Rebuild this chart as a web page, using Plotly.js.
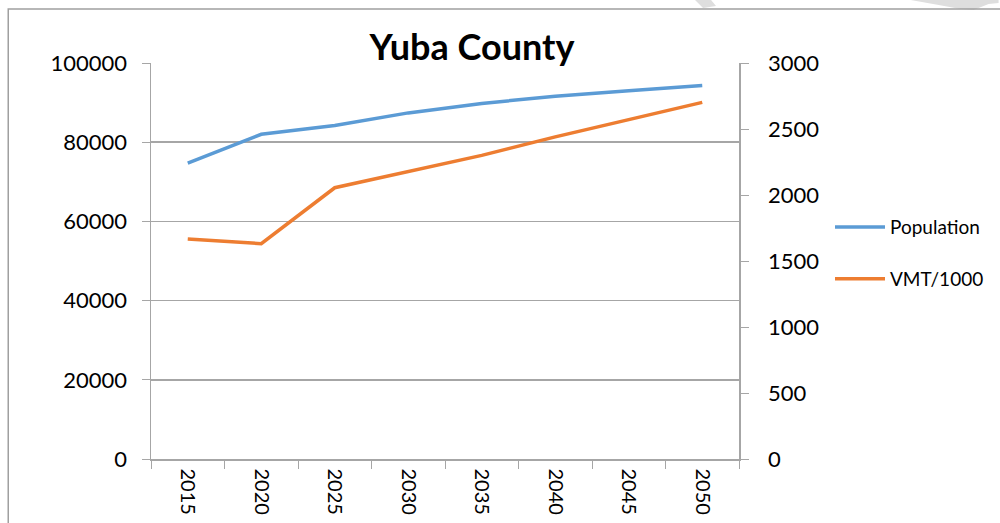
<!DOCTYPE html>
<html>
<head>
<meta charset="utf-8">
<script src="https://cdn.plot.ly/plotly-3.0.1.min.js"></script>
<style>
  html, body { margin: 0; padding: 0; background: #fff; }
  #chart { width: 1000px; height: 523px; }
</style>
</head>
<body>
<div id="chart"></div>
<script>
// Chart data
const years = ['2015', '2020', '2025', '2030', '2035', '2040', '2045', '2050'];
const population = [74700, 82000, 84200, 87400, 89800, 91600, 93000, 94300];
const vmtPer1000 = [1667, 1631, 2055, 2177, 2300, 2440, 2568, 2702];

// plot area in pixels: x 151..740, y 63..459
const px = x => (x - 151) / 589;
const py = y => (459 - y) / 396;

const fontFamily = 'Lato, "Open Sans", sans-serif';
const gridGray = '#a6a6a6';

const tracePop = {
    x: years, y: population, name: 'Population',
    type: 'scatter', mode: 'lines',
    line: { color: '#5b9bd5', width: 3.5 },
    legendgroup: 'a'
};
const traceVmt = {
    x: years, y: vmtPer1000, name: 'VMT/1000',
    type: 'scatter', mode: 'lines', yaxis: 'y2',
    line: { color: '#ed7d31', width: 3.5 },
    legendgroup: 'b'
};

// watermark fragments and outer chart border
function poly(points) {
    return 'M' + points.map(p => px(p[0]) + ',' + py(p[1])).join(' L') + ' Z';
}
const shapes = [
    { type: 'path', xref: 'paper', yref: 'paper', layer: 'below',
      path: poly([[696, 0], [712, 0], [717, 6], [704, 8]]),
      fillcolor: '#dedede', line: { width: 0 } },
    { type: 'path', xref: 'paper', yref: 'paper', layer: 'below',
      path: poly([[912, 0], [1000, 0], [1000, 3], [990, 4], [975, 10], [962, 9], [940, 5]]),
      fillcolor: '#dedede', line: { width: 0 } },
    { type: 'rect', xref: 'paper', yref: 'paper', layer: 'below',
      x0: px(8), x1: px(1010), y0: py(9), y1: py(540),
      line: { color: '#a0a0a0', width: 1.5 }, fillcolor: 'rgba(0,0,0,0)' }
];

const layout = {
    width: 1000, height: 523,
    margin: { l: 151, r: 260, t: 63, b: 64 },
    paper_bgcolor: '#fff', plot_bgcolor: '#fff',
    font: { family: fontFamily, size: 22, color: '#000' },
    title: {
        text: '<b>Yuba County</b>',
        font: { family: fontFamily, size: 36, color: '#000' },
        x: 0.472, xref: 'container', xanchor: 'center',
        y: 1 - 47 / 523, yref: 'container', yanchor: 'middle'
    },
    showlegend: true,
    legend: {
        x: px(830), xanchor: 'left', y: 0.52, yanchor: 'middle',
        font: { family: fontFamily, size: 19, color: '#000' },
        itemwidth: 50, traceorder: 'grouped', tracegroupgap: 24,
        bgcolor: 'rgba(0,0,0,0)'
    },
    xaxis: {
        type: 'category', range: [-0.5, 7.5], tickson: 'boundaries',
        ticks: 'outside', ticklen: 8, tickcolor: gridGray, tickwidth: 1,
        tickangle: 90, tickfont: { size: 20 }, ticklabelstandoff: 4,
        showline: true, linecolor: gridGray, linewidth: 1.5,
        showgrid: false, zeroline: false, fixedrange: true
    },
    yaxis: {
        range: [0, 100000], dtick: 20000, tickformat: 'd',
        ticks: 'outside', ticklen: 8, tickcolor: gridGray,
        ticklabelstandoff: 10,
        showline: true, linecolor: gridGray, linewidth: 1.5,
        showgrid: true, gridcolor: gridGray, gridwidth: 1.5,
        zeroline: false, fixedrange: true
    },
    yaxis2: {
        overlaying: 'y', side: 'right',
        range: [0, 3000], dtick: 500, tickformat: 'd',
        ticks: 'outside', ticklen: 8, tickcolor: gridGray,
        ticklabelstandoff: 15,
        showline: true, linecolor: gridGray, linewidth: 1.5,
        showgrid: false, zeroline: false, fixedrange: true
    },
    shapes: shapes,
    hovermode: false
};

Plotly.newPlot('chart', [tracePop, traceVmt], layout, { displayModeBar: false, staticPlot: true });
</script>
</body>
</html>
